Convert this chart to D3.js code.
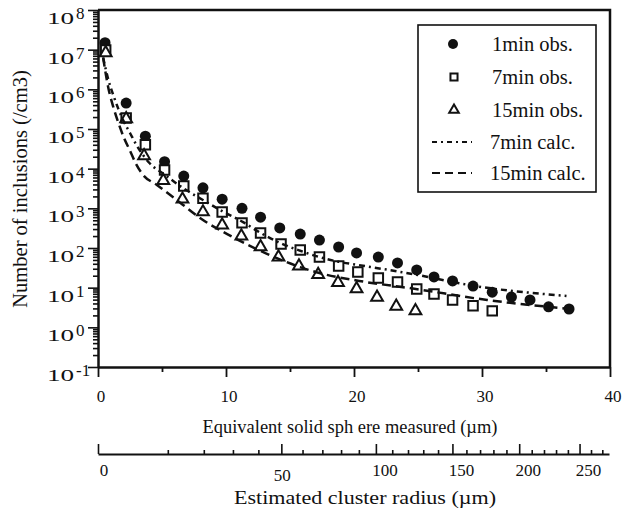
<!DOCTYPE html>
<html>
<head>
<meta charset="utf-8">
<script src="https://cdn.jsdelivr.net/npm/d3@7/dist/d3.min.js"></script>
<style>
  html, body { margin: 0; padding: 0; background: #fff; }
  svg { display: block; }
  text { font-family: "Liberation Serif", "Times New Roman", Times, serif; fill: #111; }
</style>
</head>
<body>
<svg id="chart" width="624" height="510"></svg>
<script>
// ---------------- data ----------------
const obs1X  = [0.55, 2.2, 3.7, 5.2, 6.7, 8.2, 9.7, 11.25, 12.7, 14.2, 15.8, 17.3, 18.8, 20.2, 21.9, 23.4, 24.9, 26.25, 27.7, 29.3, 30.8, 32.3, 33.75, 35.2, 36.8];
const obs1Y  = [1.5e7, 4.5e5, 6.6e4, 1.5e4, 6.5e3, 3.3e3, 1.7e3, 1.0e3, 600, 320, 225, 158, 106, 75, 59, 42, 28, 18.6, 14.8, 11, 7.7, 5.8, 4.9, 3.3, 2.9];

const obs7X  = [0.6, 2.2, 3.7, 5.2, 6.7, 8.2, 9.7, 11.25, 12.7, 14.3, 15.8, 17.3, 18.8, 20.3, 21.9, 23.4, 24.9, 26.25, 27.7, 29.3, 30.8];
const obs7Y  = [9.8e6, 1.9e5, 4.0e4, 9.3e3, 3.66e3, 1.8e3, 810, 430, 238, 126, 89, 59, 35, 25, 17.6, 13.9, 9.3, 6.9, 4.9, 3.5, 2.6];

const obs15X = [0.6, 2.2, 3.6, 5.1, 6.6, 8.2, 9.7, 11.2, 12.7, 14.1, 15.7, 17.2, 18.75, 20.2, 21.8, 23.3, 24.8];
const obs15Y = [8.3e6, 1.8e5, 2.1e4, 5.0e3, 1.7e3, 810, 380, 200, 107, 59, 35, 21.5, 13.5, 9.3, 5.7, 3.4, 2.6];

const calc7X = [0.4, 0.8, 1.2, 1.6, 2.0, 2.5, 3.0, 3.5, 4.0, 5.2, 6.7, 8.2, 9.7, 11.3, 12.7, 14.2, 15.8, 17.3, 18.8, 20.4, 24.8, 29.3, 36.6];
const calc7Y = [6.31e6, 1.78e6, 7.08e5, 3.16e5, 1.58e5, 7.94e4, 3.98e4, 2.24e4, 1.41e4, 7.08e3, 3.16e3, 1.62e3, 851, 457, 240, 135, 85, 59, 45, 37, 21.4, 11.2, 6.2];

const calc15X = [0.4, 0.8, 1.2, 1.6, 2.0, 2.5, 3.0, 3.5, 4.6, 6.4, 8.0, 10.5, 13.2, 15.8, 17.3, 20.4, 24.6, 30.4, 36.9];
const calc15Y = [6.31e6, 1.12e6, 3.55e5, 1.41e5, 6.31e4, 2.82e4, 1.26e4, 7.08e3, 3.89e3, 1.41e3, 562, 191, 71, 33, 23.4, 14.8, 9.5, 4.9, 2.9];

const xMajorTicks = [0, 10, 20, 30, 40];
const xMinorTicks = [5, 15, 25, 35];
const yExponents  = [8, 7, 6, 5, 4, 3, 2, 1, 0, -1];
const rMajorTicks = [0, 50, 100, 150, 200, 250];
const rMinorTicks = [10, 20, 30, 40, 60, 70, 80, 90, 110, 120, 130, 140, 160, 170, 180, 190, 210, 220, 230, 240, 260, 270];

const legendItems = ["1min obs.", "7min obs.", "15min obs.", "7min calc.", "15min calc."];

const xTitle = "Equivalent solid sph ere measured  (\u00b5m)";
const rTitle = "Estimated cluster radius (\u00b5m)";
const yTitle = "Number of inclusions (/cm3)";

// ---------------- layout ----------------
const svg = d3.select("#chart");
const L = 98, R = 610, T = 10, B = 367;

const x = d3.scaleLinear().domain([0, 40]).range([L, R]);
const y = d3.scaleLog().domain([0.1, 1e8]).range([B, T]);
const r = d3.scalePow().exponent(0.6).domain([0, 276]).range([L, R - 1]);

const ink = "#111";

// frame (top and right)
svg.append("path")
  .attr("d", `M${L},${T}H${R}V${B}`)
  .attr("fill", "none").attr("stroke", ink).attr("stroke-width", 2.5);

// y axis
const yAxis = d3.axisLeft(y).tickValues(y.ticks()).tickFormat("").tickSizeInner(5).tickSizeOuter(0);
const gy = svg.append("g").attr("transform", `translate(${L},0)`).call(yAxis);
gy.select(".domain").attr("stroke", ink).attr("stroke-width", 2.5);
gy.selectAll(".tick line").attr("stroke", ink).attr("stroke-width", 1.6)
  .attr("x2", d => (Math.abs(Math.log10(d) - Math.round(Math.log10(d))) < 1e-9) ? -10 : -5);

// y tick labels
yExponents.forEach(e => {
  const ty = y(Math.pow(10, e));
  svg.append("text")
    .attr("transform", `translate(47,${ty + 14}) scale(1.6,1)`)
    .attr("font-size", 17).text("10");
  svg.append("text")
    .attr("x", 76).attr("y", ty + 9)
    .attr("font-size", 17).text(e < 0 ? "-" + Math.abs(e) : String(e));
});

// x axis
const xAxis = d3.axisBottom(x).tickValues(xMajorTicks.concat(xMinorTicks)).tickFormat("").tickSizeInner(10).tickSizeOuter(0);
const gx = svg.append("g").attr("transform", `translate(0,${B})`).call(xAxis);
gx.select(".domain").attr("stroke", ink).attr("stroke-width", 2.5);
gx.selectAll(".tick line").attr("stroke", ink).attr("stroke-width", 1.8)
  .attr("y2", d => xMajorTicks.includes(d) ? 10 : 5);
xMajorTicks.forEach(v => {
  svg.append("text").attr("x", x(v) + 3).attr("y", 402)
    .attr("text-anchor", "middle").attr("font-size", 17).text(v);
});

// x title
svg.append("text").attr("x", 350).attr("y", 433)
  .attr("text-anchor", "middle").attr("font-size", 19)
  .attr("textLength", 295).attr("lengthAdjust", "spacingAndGlyphs")
  .text(xTitle);

// second (cluster radius) axis
const rY = 454;
const rAxis = d3.axisTop(r).tickValues(rMajorTicks.concat(rMinorTicks)).tickFormat("").tickSizeInner(5).tickSizeOuter(0);
const gr = svg.append("g").attr("transform", `translate(0,${rY})`).call(rAxis);
gr.select(".domain").attr("stroke", ink).attr("stroke-width", 2.2);
gr.selectAll(".tick line").attr("stroke", ink).attr("stroke-width", 1.6)
  .attr("y2", d => rMajorTicks.includes(d) ? -10 : -4);
rMajorTicks.forEach(v => {
  const dx = v === 0 ? 6 : (v === 50 ? 1 : 9);
  const yy = v === 50 ? 481 : 476;
  svg.append("text").attr("x", r(v) + dx).attr("y", yy)
    .attr("text-anchor", "middle").attr("font-size", 17).text(v);
});
svg.append("text").attr("x", 365).attr("y", 504)
  .attr("text-anchor", "middle").attr("font-size", 19.5)
  .attr("textLength", 262).attr("lengthAdjust", "spacingAndGlyphs")
  .text(rTitle);

// y title
svg.append("text")
  .attr("transform", `translate(27,189) rotate(-90)`)
  .attr("text-anchor", "middle").attr("font-size", 20.5)
  .text(yTitle);

// ---------------- marks ----------------
const sq = d3.symbol().type(d3.symbolSquare);
const tri = d3.symbol().type(d3.symbolTriangle);

const plot = svg.append("g");

plot.selectAll("circle.o1").data(obs1X.map((v, i) => [v, obs1Y[i]])).join("circle")
  .attr("class", "o1").attr("cx", d => x(d[0])).attr("cy", d => y(d[1]))
  .attr("r", 5.5).attr("fill", ink);

plot.selectAll("path.o7").data(obs7X.map((v, i) => [v, obs7Y[i]])).join("path")
  .attr("class", "o7").attr("transform", d => `translate(${x(d[0])},${y(d[1])})`)
  .attr("d", sq.size(90)).attr("fill", "#fff").attr("stroke", ink).attr("stroke-width", 2);

plot.selectAll("path.o15").data(obs15X.map((v, i) => [v, obs15Y[i]])).join("path")
  .attr("class", "o15").attr("transform", d => `translate(${x(d[0])},${y(d[1])})`)
  .attr("d", tri.size(60)).attr("fill", "#fff").attr("stroke", ink).attr("stroke-width", 2);

const line = d3.line().x(d => x(d[0])).y(d => y(d[1])).curve(d3.curveMonotoneX);

plot.append("path").datum(calc7X.map((v, i) => [v, calc7Y[i]]))
  .attr("d", line).attr("fill", "none").attr("stroke", ink)
  .attr("stroke-width", 2.5).attr("stroke-dasharray", "6,4,2,4");

plot.append("path").datum(calc15X.map((v, i) => [v, calc15Y[i]]))
  .attr("d", line).attr("fill", "none").attr("stroke", ink)
  .attr("stroke-width", 2.5).attr("stroke-dasharray", "9,5");

// ---------------- legend ----------------
const lg = svg.append("g");
lg.append("rect").attr("x", 418).attr("y", 25).attr("width", 178).attr("height", 167)
  .attr("fill", "#fff").attr("stroke", ink).attr("stroke-width", 1.6);
const rowY = [44, 77, 110, 142, 173];
legendItems.forEach((t, i) => {
  const yy = rowY[i];
  if (i === 0) lg.append("circle").attr("cx", 453).attr("cy", yy).attr("r", 5).attr("fill", ink);
  if (i === 1) lg.append("path").attr("transform", `translate(454,${yy})`).attr("d", sq.size(50))
    .attr("fill", "#fff").attr("stroke", ink).attr("stroke-width", 2);
  if (i === 2) lg.append("path").attr("transform", `translate(454,${yy})`).attr("d", tri.size(40))
    .attr("fill", "#fff").attr("stroke", ink).attr("stroke-width", 2);
  if (i === 3) lg.append("line").attr("x1", 432).attr("x2", 472).attr("y1", yy).attr("y2", yy)
    .attr("stroke", ink).attr("stroke-width", 2).attr("stroke-dasharray", "5,4,2,4");
  if (i === 4) lg.append("line").attr("x1", 432).attr("x2", 472).attr("y1", yy).attr("y2", yy)
    .attr("stroke", ink).attr("stroke-width", 2).attr("stroke-dasharray", "8,5");
  lg.append("text").attr("x", i < 3 ? 492 : 490).attr("y", yy + 7)
    .attr("font-size", 20.5).text(t);
});
</script>
</body>
</html>
